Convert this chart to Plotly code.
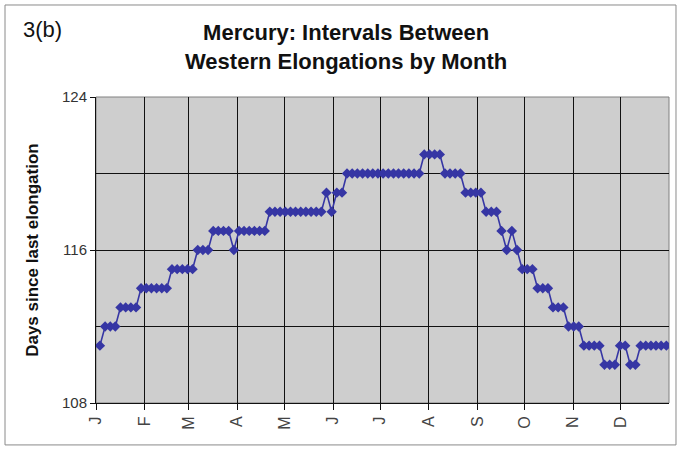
import plotly.graph_objects as go

# Sample dates (day of year) and interval since the previous western elongation (days)
day_of_year = [2.5, 5.8, 9.1, 12.3, 15.6, 18.9, 22.2, 25.5, 28.7, 32.0,
               35.3, 38.6, 41.9, 45.1, 48.4, 51.7, 55.0, 58.3, 61.5, 64.8,
               68.1, 71.4, 74.7, 77.9, 81.2, 84.5, 87.8, 91.1, 94.3, 97.6,
               100.9, 104.2, 107.5, 110.7, 114.0, 117.3, 120.6, 123.9, 127.1, 130.4,
               133.7, 137.0, 140.3, 143.5, 146.8, 150.1, 153.4, 156.7, 159.9, 163.2,
               166.5, 169.8, 173.1, 176.3, 179.6, 182.9, 186.2, 189.5, 192.7, 196.0,
               199.3, 202.6, 205.9, 209.1, 212.4, 215.7, 219.0, 222.3, 225.5, 228.8,
               232.1, 235.4, 238.7, 241.9, 245.2, 248.5, 251.8, 255.1, 258.3, 261.6,
               264.9, 268.2, 271.5, 274.7, 278.0, 281.3, 284.6, 287.9, 291.1, 294.4,
               297.7, 301.0, 304.3, 307.5, 310.8, 314.1, 317.4, 320.7, 323.9, 327.2,
               330.5, 333.8, 337.1, 340.3, 343.6, 346.9, 350.2, 353.5, 356.7, 360.0,
               363.3]

days_since = [111, 112, 112, 112, 113, 113, 113, 113, 114, 114,
              114, 114, 114, 114, 115, 115, 115, 115, 115, 116,
              116, 116, 117, 117, 117, 117, 116, 117, 117, 117,
              117, 117, 117, 118, 118, 118, 118, 118, 118, 118,
              118, 118, 118, 118, 119, 118, 119, 119, 120, 120,
              120, 120, 120, 120, 120, 120, 120, 120, 120, 120,
              120, 120, 120, 121, 121, 121, 121, 120, 120, 120,
              120, 119, 119, 119, 119, 118, 118, 118, 117, 116,
              117, 116, 115, 115, 115, 114, 114, 114, 113, 113,
              113, 112, 112, 112, 111, 111, 111, 111, 110, 110,
              110, 111, 111, 110, 110, 111, 111, 111, 111, 111,
              111]

month_start_days = [0, 31, 59, 90, 120, 151, 181, 212, 243, 273, 304, 334]
month_labels = ["J", "F", "M", "A", "M", "J", "J", "A", "S", "O", "N", "D"]

y_ticks = [108, 116, 124]

line_color = "#3636A4"
font_family = "Liberation Sans, Arial, sans-serif"
narrow_family = "Liberation Sans Narrow, Liberation Sans, Arial, sans-serif"

fig = go.Figure()
fig.add_trace(go.Scatter(
    x=day_of_year, y=days_since, mode="lines+markers",
    line=dict(color=line_color, width=1.6),
    marker=dict(symbol="diamond", size=8, color=line_color),
    showlegend=False, hoverinfo="x+y",
))

fig.update_layout(
    width=681, height=470,
    margin=dict(l=96, r=12, t=97, b=67),
    paper_bgcolor="white",
    plot_bgcolor="#cecece",
    font=dict(family=font_family, color="#1a1a1a"),
    xaxis=dict(
        range=[0, 365], tickmode="array", tickvals=month_start_days, ticktext=month_labels,
        tickangle=-90, tickfont=dict(size=16, color="#444"),
        showgrid=True, gridcolor="#111", gridwidth=1,
        showline=True, linecolor="#111", linewidth=1,
        ticks="outside", ticklen=6, tickcolor="#111",
        zeroline=False, fixedrange=True,
    ),
    yaxis=dict(
        range=[108, 124], tickmode="array", tickvals=y_ticks,
        ticktext=[str(v) for v in y_ticks],
        tickfont=dict(size=15, color="#333", family=narrow_family),
        showgrid=True, gridcolor="#111", gridwidth=1,
        minor=dict(dtick=4, tick0=108, showgrid=True, gridcolor="#111", gridwidth=1, ticks=""),
        showline=True, linecolor="#111", linewidth=1,
        ticks="outside", ticklen=5, tickcolor="#111",
        zeroline=False, fixedrange=True,
    ),
)

# plot-area border (gray on top / right)
fig.add_shape(type="rect", xref="paper", yref="paper", x0=0, x1=1, y0=0, y1=1,
              line=dict(color="#808080", width=1), layer="below")
# outer chart border
fig.add_shape(type="rect", xref="paper", yref="paper",
              x0=-0.1588, x1=1.0122, y0=-0.137, y1=1.3007,
              line=dict(color="#8a8a8a", width=1))

fig.add_annotation(
    text="<b>Mercury: Intervals Between<br>Western Elongations by Month</b>",
    xref="paper", yref="paper", x=0.4355, y=1.165, xanchor="center", yanchor="middle",
    showarrow=False, font=dict(size=22, color="#111", family=font_family), align="center",
)
fig.add_annotation(
    text="3(b)", xref="paper", yref="paper", x=-0.131, y=1.222,
    xanchor="left", yanchor="middle", showarrow=False,
    font=dict(size=22, color="#111", family=narrow_family),
)
fig.add_annotation(
    text="<b>Days since last elongation</b>", xref="paper", yref="paper",
    x=-0.112, y=0.5, xanchor="center", yanchor="middle", textangle=-90,
    showarrow=False, font=dict(size=17, color="#111", family=font_family),
)

fig.write_html("out.html", config={"displayModeBar": False},
               post_script="document.body.style.margin='0';")
